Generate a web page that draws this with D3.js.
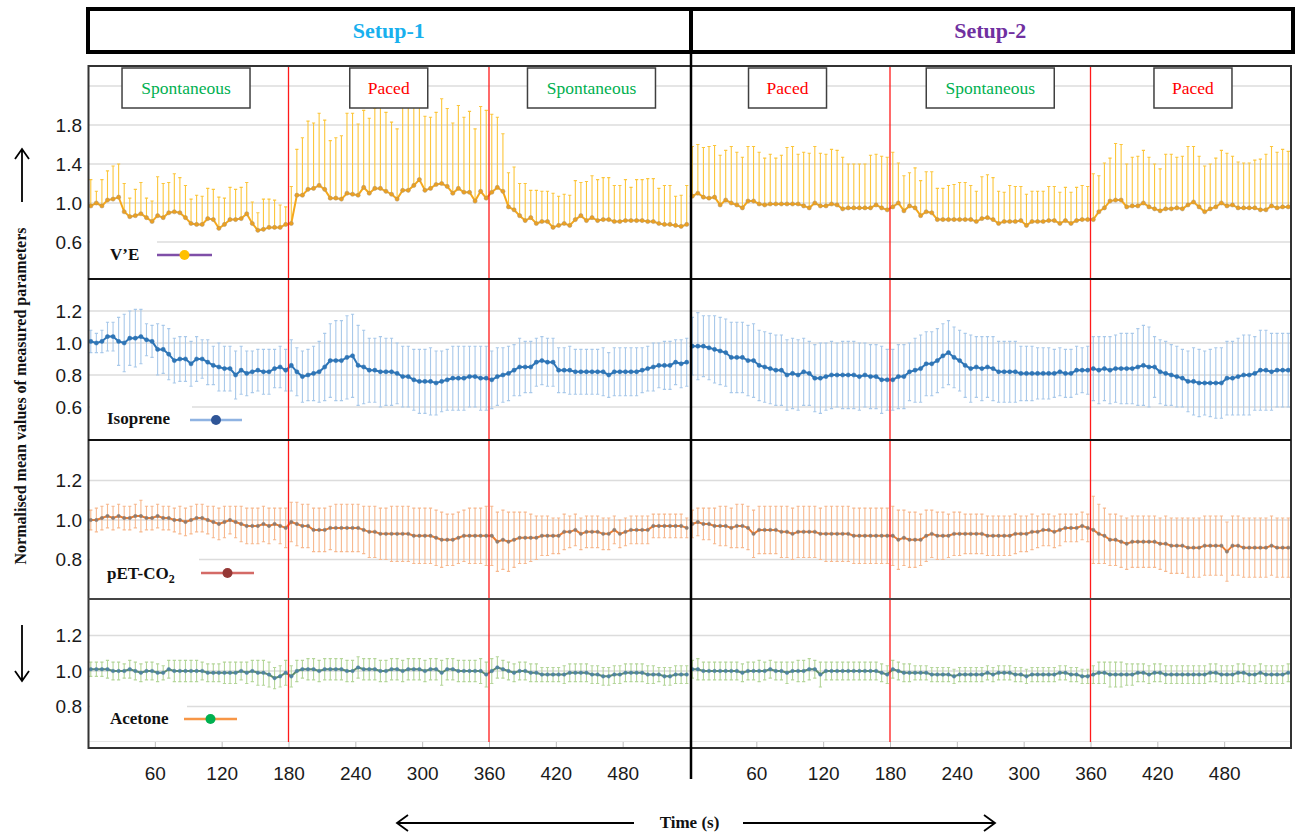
<!DOCTYPE html>
<html lang="en">
<head>
<meta charset="utf-8">
<title>Normalised mean values of measured parameters</title>
<script src="https://cdn.jsdelivr.net/npm/d3@7"></script>
<style>
  body { margin: 0; background: #fff; }
  svg { display: block; }
</style>
</head>
<body>
<script>

// Sampling: one mean every 5 s, 108 samples per setup (540 s)
var setupLength = 540;
var sampleStep = 5;
var firstSample = 2.5;

var setupNames = ["Setup-1", "Setup-2"];
var phaseNames1 = ["Spontaneous", "Paced", "Spontaneous"];
var phaseNames2 = ["Paced", "Spontaneous", "Paced"];
var phaseCentres = [88, 270, 452];
var phaseBorders = [180, 360];
var timeTicks = [60, 120, 180, 240, 300, 360, 420, 480];

// V'E (upper error only)
var veMean1 = [0.97,1.00,0.97,1.03,1.04,1.06,0.91,0.86,0.87,0.89,
  0.85,0.81,0.87,0.85,0.90,0.91,0.90,0.85,0.79,0.78,
  0.78,0.84,0.83,0.74,0.78,0.83,0.83,0.84,0.89,0.79,
  0.72,0.73,0.75,0.75,0.75,0.78,0.79,1.08,1.08,1.14,
  1.15,1.18,1.14,1.05,1.05,1.04,1.10,1.09,1.08,1.16,
  1.10,1.15,1.15,1.12,1.09,1.04,1.13,1.13,1.18,1.24,
  1.13,1.15,1.19,1.20,1.17,1.10,1.15,1.11,1.11,1.02,
  1.12,1.05,1.11,1.16,1.12,0.96,0.93,0.87,0.82,0.85,
  0.79,0.81,0.81,0.75,0.77,0.79,0.77,0.83,0.87,0.82,
  0.85,0.82,0.83,0.83,0.81,0.81,0.82,0.82,0.82,0.82,
  0.81,0.81,0.79,0.78,0.78,0.77,0.76,0.78];
var veErr1 = [0.27,0.12,0.27,0.30,0.34,0.34,0.29,0.19,0.27,0.32,
  0.20,0.21,0.40,0.35,0.31,0.39,0.36,0.33,0.25,0.30,
  0.29,0.31,0.31,0.32,0.27,0.33,0.31,0.32,0.32,0.22,
  0.18,0.31,0.29,0.28,0.23,0.18,0.38,0.47,0.59,0.70,
  0.67,0.74,0.71,0.59,0.62,0.65,0.82,0.83,0.73,0.79,
  0.77,0.82,0.90,0.81,0.74,0.72,0.87,0.97,0.91,0.82,
  0.76,0.73,0.74,0.87,0.80,0.72,0.85,0.77,0.83,0.74,
  0.87,0.90,0.80,0.72,0.59,0.35,0.44,0.33,0.38,0.28,
  0.34,0.31,0.31,0.35,0.30,0.30,0.31,0.40,0.34,0.40,
  0.43,0.42,0.43,0.43,0.37,0.37,0.42,0.34,0.42,0.42,
  0.44,0.44,0.36,0.40,0.40,0.30,0.32,0.40];
var veMean2 = [1.07,1.10,1.06,1.05,1.06,0.98,1.03,1.00,0.98,0.95,
  1.02,1.02,0.99,0.98,0.99,0.99,0.99,0.99,0.99,0.99,
  0.97,0.95,1.00,0.97,0.97,0.99,0.98,0.94,0.95,0.95,
  0.95,0.95,0.95,0.98,0.95,0.93,0.96,1.00,0.92,0.97,
  0.95,0.87,0.91,0.90,0.83,0.83,0.83,0.83,0.83,0.83,
  0.83,0.81,0.84,0.85,0.83,0.79,0.81,0.81,0.81,0.82,
  0.77,0.81,0.81,0.81,0.82,0.82,0.79,0.82,0.79,0.82,
  0.83,0.83,0.83,0.91,0.95,1.02,1.03,1.03,0.96,0.97,
  0.97,1.00,0.96,0.94,0.92,0.94,0.94,0.95,0.94,0.98,
  1.01,0.96,0.91,0.94,0.96,1.00,0.97,0.98,0.95,0.95,
  0.95,0.95,0.93,0.93,0.97,0.95,0.96,0.96];
var veErr2 = [0.51,0.50,0.51,0.53,0.53,0.51,0.51,0.58,0.54,0.52,
  0.56,0.56,0.53,0.48,0.51,0.47,0.50,0.58,0.59,0.51,
  0.55,0.56,0.58,0.54,0.53,0.56,0.56,0.53,0.45,0.45,
  0.45,0.45,0.54,0.52,0.53,0.54,0.56,0.41,0.36,0.34,
  0.41,0.36,0.41,0.42,0.32,0.32,0.35,0.36,0.38,0.38,
  0.35,0.31,0.43,0.44,0.43,0.33,0.30,0.37,0.36,0.35,
  0.32,0.31,0.31,0.31,0.35,0.35,0.32,0.34,0.32,0.34,
  0.35,0.34,0.47,0.37,0.46,0.44,0.58,0.57,0.44,0.50,
  0.51,0.54,0.51,0.46,0.43,0.56,0.56,0.52,0.54,0.60,
  0.57,0.52,0.47,0.46,0.50,0.54,0.54,0.50,0.47,0.46,
  0.46,0.49,0.52,0.57,0.61,0.57,0.59,0.57];

// Isoprene
var isoMean1 = [1.01,1.00,1.01,1.04,1.04,1.01,1.00,1.03,1.03,1.04,
  1.02,1.01,0.96,0.96,0.93,0.89,0.90,0.90,0.87,0.90,
  0.90,0.88,0.86,0.85,0.84,0.84,0.80,0.83,0.81,0.82,
  0.83,0.82,0.82,0.84,0.85,0.83,0.86,0.82,0.79,0.80,
  0.81,0.82,0.85,0.89,0.89,0.89,0.91,0.92,0.86,0.85,
  0.83,0.83,0.82,0.82,0.82,0.81,0.79,0.79,0.77,0.76,
  0.76,0.76,0.75,0.76,0.77,0.78,0.78,0.78,0.79,0.79,
  0.78,0.78,0.77,0.79,0.80,0.81,0.83,0.85,0.85,0.85,
  0.88,0.89,0.88,0.88,0.83,0.83,0.83,0.82,0.82,0.82,
  0.82,0.82,0.82,0.80,0.82,0.82,0.82,0.82,0.82,0.83,
  0.84,0.85,0.86,0.86,0.86,0.88,0.87,0.88];
var isoErr1 = [0.07,0.06,0.07,0.09,0.09,0.15,0.18,0.17,0.18,0.17,
  0.10,0.10,0.16,0.15,0.16,0.14,0.14,0.14,0.14,0.14,
  0.12,0.14,0.12,0.15,0.14,0.14,0.15,0.15,0.14,0.13,
  0.13,0.14,0.14,0.12,0.13,0.13,0.16,0.15,0.16,0.16,
  0.17,0.19,0.21,0.23,0.25,0.25,0.26,0.26,0.25,0.23,
  0.20,0.20,0.22,0.21,0.21,0.19,0.19,0.19,0.19,0.20,
  0.20,0.21,0.20,0.19,0.19,0.20,0.20,0.20,0.19,0.19,
  0.20,0.20,0.18,0.18,0.17,0.17,0.16,0.18,0.16,0.16,
  0.15,0.15,0.15,0.15,0.14,0.14,0.15,0.14,0.14,0.14,
  0.14,0.14,0.15,0.14,0.15,0.15,0.15,0.15,0.15,0.14,
  0.14,0.15,0.14,0.15,0.15,0.14,0.15,0.15];
var isoMean2 = [0.98,0.98,0.98,0.97,0.96,0.95,0.94,0.91,0.91,0.91,
  0.89,0.89,0.86,0.85,0.84,0.83,0.83,0.80,0.81,0.80,
  0.82,0.81,0.78,0.78,0.79,0.80,0.80,0.80,0.80,0.80,
  0.79,0.80,0.79,0.79,0.77,0.77,0.77,0.79,0.79,0.82,
  0.83,0.84,0.87,0.87,0.89,0.92,0.94,0.91,0.89,0.86,
  0.84,0.85,0.84,0.85,0.84,0.82,0.82,0.82,0.82,0.81,
  0.81,0.81,0.81,0.81,0.81,0.81,0.82,0.81,0.81,0.83,
  0.83,0.83,0.84,0.83,0.84,0.83,0.84,0.84,0.84,0.84,
  0.85,0.86,0.85,0.85,0.82,0.81,0.80,0.79,0.78,0.76,
  0.76,0.75,0.75,0.75,0.75,0.75,0.78,0.78,0.79,0.80,
  0.80,0.81,0.83,0.83,0.82,0.83,0.83,0.83];
var isoErr2 = [0.18,0.21,0.19,0.20,0.21,0.21,0.21,0.22,0.22,0.22,
  0.22,0.23,0.22,0.22,0.22,0.22,0.22,0.22,0.22,0.22,
  0.21,0.20,0.21,0.22,0.21,0.21,0.20,0.21,0.21,0.21,
  0.21,0.20,0.20,0.20,0.21,0.19,0.19,0.20,0.20,0.18,
  0.20,0.21,0.20,0.20,0.20,0.20,0.20,0.19,0.19,0.20,
  0.21,0.19,0.20,0.19,0.20,0.19,0.19,0.19,0.19,0.17,
  0.17,0.17,0.16,0.16,0.16,0.15,0.15,0.15,0.15,0.15,
  0.14,0.15,0.20,0.21,0.20,0.21,0.21,0.22,0.22,0.22,
  0.24,0.25,0.25,0.19,0.20,0.20,0.19,0.19,0.18,0.19,
  0.21,0.21,0.20,0.21,0.22,0.22,0.23,0.23,0.24,0.25,
  0.25,0.23,0.25,0.25,0.24,0.23,0.23,0.23];

// pET-CO2
var petMean1 = [1.00,1.00,1.01,1.02,1.01,1.02,1.01,1.01,1.02,1.02,
  1.01,1.01,1.02,1.01,1.01,1.00,1.00,0.99,1.00,1.01,
  1.01,1.00,0.99,0.98,0.99,1.00,0.99,0.98,0.97,0.97,
  0.97,0.98,0.97,0.98,0.97,0.96,0.99,0.98,0.97,0.97,
  0.95,0.95,0.95,0.96,0.96,0.96,0.96,0.96,0.96,0.95,
  0.94,0.94,0.93,0.93,0.93,0.93,0.93,0.93,0.92,0.92,
  0.92,0.92,0.91,0.90,0.90,0.90,0.91,0.92,0.92,0.92,
  0.92,0.92,0.92,0.89,0.90,0.89,0.90,0.91,0.91,0.91,
  0.91,0.92,0.92,0.92,0.92,0.94,0.94,0.95,0.93,0.94,
  0.94,0.94,0.93,0.93,0.95,0.93,0.94,0.95,0.95,0.95,
  0.95,0.97,0.97,0.97,0.97,0.97,0.97,0.96];
var petErr1 = [0.05,0.06,0.06,0.06,0.06,0.06,0.06,0.06,0.06,0.08,
  0.06,0.06,0.06,0.06,0.06,0.06,0.07,0.07,0.07,0.07,
  0.07,0.07,0.08,0.08,0.08,0.07,0.08,0.09,0.09,0.09,
  0.09,0.09,0.09,0.08,0.09,0.10,0.10,0.11,0.11,0.11,
  0.11,0.11,0.11,0.11,0.12,0.12,0.12,0.12,0.12,0.12,
  0.13,0.13,0.13,0.13,0.14,0.14,0.14,0.14,0.14,0.14,
  0.14,0.14,0.14,0.14,0.13,0.13,0.13,0.13,0.14,0.14,
  0.14,0.15,0.15,0.15,0.15,0.15,0.14,0.13,0.13,0.12,
  0.11,0.10,0.10,0.09,0.09,0.09,0.08,0.08,0.08,0.08,
  0.08,0.08,0.08,0.08,0.07,0.07,0.07,0.07,0.07,0.07,
  0.07,0.06,0.06,0.06,0.06,0.06,0.06,0.05];
var petMean2 = [0.98,0.99,0.98,0.98,0.97,0.97,0.97,0.96,0.97,0.97,
  0.96,0.93,0.95,0.95,0.95,0.95,0.94,0.94,0.93,0.94,
  0.94,0.94,0.94,0.93,0.93,0.93,0.93,0.93,0.93,0.92,
  0.92,0.92,0.92,0.92,0.92,0.92,0.92,0.90,0.91,0.90,
  0.90,0.90,0.92,0.93,0.92,0.92,0.92,0.93,0.93,0.93,
  0.93,0.93,0.93,0.92,0.92,0.92,0.92,0.92,0.93,0.93,
  0.93,0.94,0.94,0.95,0.95,0.94,0.95,0.96,0.96,0.96,
  0.97,0.96,0.95,0.93,0.92,0.90,0.90,0.89,0.88,0.89,
  0.89,0.89,0.89,0.89,0.88,0.88,0.87,0.87,0.87,0.86,
  0.86,0.86,0.87,0.87,0.87,0.87,0.84,0.87,0.87,0.86,
  0.86,0.86,0.86,0.86,0.87,0.86,0.86,0.86];
var petErr2 = [0.07,0.07,0.08,0.08,0.09,0.10,0.10,0.10,0.11,0.11,
  0.11,0.12,0.12,0.12,0.12,0.12,0.13,0.13,0.13,0.13,
  0.13,0.13,0.13,0.13,0.14,0.14,0.14,0.14,0.14,0.14,
  0.14,0.14,0.14,0.14,0.14,0.14,0.15,0.15,0.14,0.14,
  0.14,0.13,0.13,0.12,0.12,0.12,0.11,0.11,0.11,0.10,
  0.10,0.10,0.10,0.10,0.10,0.10,0.10,0.10,0.10,0.09,
  0.09,0.09,0.08,0.08,0.08,0.08,0.08,0.07,0.07,0.07,
  0.07,0.07,0.17,0.15,0.14,0.13,0.13,0.13,0.13,0.13,
  0.13,0.13,0.13,0.13,0.13,0.14,0.14,0.14,0.14,0.15,
  0.15,0.15,0.15,0.15,0.15,0.15,0.15,0.15,0.15,0.15,
  0.15,0.15,0.15,0.15,0.15,0.15,0.15,0.15];

// Acetone
var aceMean1 = [1.01,1.01,1.01,1.01,1.00,1.00,1.00,1.01,1.00,0.99,
  1.00,1.00,0.99,0.99,1.01,1.00,1.00,1.00,1.00,1.00,
  1.00,0.99,0.99,0.99,0.99,0.99,0.99,1.00,0.99,1.00,
  0.99,0.99,0.98,0.96,0.97,0.99,0.97,1.00,1.01,1.01,
  1.01,1.00,1.01,1.01,1.01,1.01,1.00,1.00,1.02,1.01,
  1.01,1.01,1.00,1.00,1.01,1.01,1.00,1.01,1.01,1.01,
  1.00,1.01,1.01,0.99,1.01,1.01,1.00,1.00,1.00,1.00,
  1.00,0.98,1.00,1.02,1.01,1.00,0.99,1.00,1.00,0.99,
  0.99,0.98,0.98,0.98,0.98,0.98,0.99,0.99,0.99,0.99,
  0.98,0.98,0.97,0.97,0.98,0.98,0.99,0.99,0.99,0.99,
  0.98,0.98,0.98,0.97,0.97,0.98,0.98,0.98];
var aceErr1 = [0.04,0.04,0.04,0.05,0.05,0.05,0.04,0.05,0.05,0.05,
  0.05,0.05,0.05,0.04,0.05,0.06,0.06,0.06,0.06,0.06,
  0.05,0.05,0.05,0.05,0.06,0.06,0.06,0.05,0.06,0.06,
  0.07,0.07,0.07,0.06,0.06,0.07,0.06,0.06,0.05,0.06,
  0.06,0.06,0.06,0.06,0.06,0.06,0.06,0.06,0.06,0.06,
  0.06,0.06,0.06,0.06,0.06,0.06,0.06,0.06,0.06,0.06,
  0.06,0.06,0.06,0.07,0.06,0.06,0.06,0.06,0.06,0.06,
  0.07,0.07,0.07,0.06,0.05,0.05,0.05,0.05,0.05,0.05,
  0.05,0.04,0.04,0.04,0.04,0.05,0.05,0.05,0.05,0.05,
  0.05,0.05,0.05,0.05,0.05,0.05,0.05,0.05,0.05,0.05,
  0.05,0.05,0.04,0.05,0.05,0.05,0.05,0.05];
var aceMean2 = [1.01,1.01,1.00,1.00,1.00,1.00,1.00,1.00,1.00,0.99,
  1.00,1.00,1.00,1.00,1.01,1.00,1.00,0.99,1.00,1.00,
  1.00,1.01,1.01,0.98,1.00,1.00,1.00,1.00,1.00,1.00,
  1.00,1.00,1.00,1.00,0.99,0.98,1.01,1.00,0.99,0.99,
  0.99,0.99,0.99,0.98,0.98,0.98,0.98,0.97,0.98,0.98,
  0.98,0.98,0.98,0.99,0.98,0.99,0.99,0.99,0.98,0.98,
  0.97,0.98,0.98,0.98,0.98,0.98,0.99,0.99,0.98,0.98,
  0.97,0.97,0.98,0.99,0.99,0.98,0.98,0.98,0.98,0.98,
  0.99,0.99,0.98,0.99,0.99,0.98,0.98,0.98,0.98,0.98,
  0.98,0.98,0.98,0.99,0.99,0.98,0.98,0.98,0.99,0.99,
  0.98,0.98,0.99,0.98,0.98,0.98,0.98,0.99];
var aceErr2 = [0.05,0.06,0.05,0.05,0.05,0.05,0.05,0.05,0.05,0.05,
  0.05,0.05,0.06,0.05,0.05,0.05,0.05,0.06,0.05,0.06,
  0.06,0.06,0.05,0.07,0.05,0.05,0.05,0.05,0.05,0.05,
  0.05,0.05,0.05,0.05,0.05,0.05,0.05,0.05,0.05,0.05,
  0.04,0.04,0.04,0.04,0.04,0.04,0.04,0.04,0.04,0.04,
  0.04,0.04,0.04,0.04,0.04,0.04,0.04,0.04,0.04,0.04,
  0.04,0.04,0.04,0.04,0.04,0.04,0.04,0.04,0.04,0.04,
  0.04,0.04,0.05,0.06,0.06,0.07,0.07,0.07,0.06,0.06,
  0.05,0.05,0.05,0.05,0.05,0.05,0.05,0.05,0.05,0.05,
  0.05,0.05,0.05,0.05,0.05,0.05,0.05,0.05,0.05,0.05,
  0.05,0.05,0.05,0.05,0.05,0.05,0.05,0.05];

// Width and height
var w = 1298;
var h = 835;
var serif = "'Liberation Serif', 'Times New Roman', serif";
var sans = "'Liberation Sans', Arial, sans-serif";

var svg = d3.select("body")
            .append("svg")
            .attr("width", w)
            .attr("height", h);

// one time axis for both setups, setup-2 continues after 540 s
var xScale = d3.scaleLinear()
               .domain([0, 2 * setupLength])
               .range([88, 1291]);

var panels = [
  { id: "ve", top: 66, bottom: 279, domain: [0.2, 2.4], range: [281, 66.5],
    grid: [0.6, 1.0, 1.4, 1.8, 2.2], ticks: [0.6, 1.0, 1.4, 1.8],
    mean: [veMean1, veMean2], err: [veErr1, veErr2], upperOnly: true,
    line: "#f5a81c", dot: "#eda020", dotStroke: "#a8906a", r: 2.1, bar: "#fcc63c",
    label: "V\u2019E", lx: 110, ly: 260, legendBox: [90, 226, 67, 46],
    sample: [157, 212, 255], sampleLine: "#7f4fa8", sampleDot: "#ffc000" },
  { id: "iso", top: 279, bottom: 440, domain: [0.4, 1.4], range: [439, 279],
    grid: [0.6, 0.8, 1.0, 1.2], ticks: [0.6, 0.8, 1.0, 1.2],
    mean: [isoMean1, isoMean2], err: [isoErr1, isoErr2], upperOnly: false,
    line: "#2e75b6", dot: "#2e75b6", dotStroke: "#2e75b6", r: 2.1, bar: "#a9c9ea",
    label: "Isoprene", lx: 107, ly: 424, legendBox: [90, 396, 102, 42],
    sample: [190, 242, 420], sampleLine: "#8fb3e2", sampleDot: "#2f5597" },
  { id: "pet", top: 440, bottom: 599, domain: [0.6, 1.4], range: [599, 441],
    grid: [0.8, 1.0, 1.2], ticks: [0.8, 1.0, 1.2],
    mean: [petMean1, petMean2], err: [petErr1, petErr2], upperOnly: false,
    line: "#ed7d31", dot: "#8f7c70", dotStroke: "#8f7c70", r: 1.7, bar: "#f7b98f",
    label: "pET-CO", sub: "2", lx: 107, ly: 579, legendBox: [90, 548, 109, 49],
    sample: [201, 254, 573], sampleLine: "#d46a66", sampleDot: "#953735" },
  { id: "ace", top: 599, bottom: 742, domain: [0.6, 1.4], range: [742, 600],
    grid: [0.6, 0.8, 1.0, 1.2], ticks: [0.8, 1.0, 1.2],
    mean: [aceMean1, aceMean2], err: [aceErr1, aceErr2], upperOnly: false,
    line: "#5e8d6c", dot: "#4f83a0", dotStroke: "#4f83a0", r: 1.8, bar: "#b5d69a",
    label: "Acetone", lx: 110, ly: 724, legendBox: [90, 694, 97, 46],
    sample: [184, 237, 719], sampleLine: "#f79646", sampleDot: "#00b050" }
];

var defs = svg.append("defs");

panels.forEach(function(p) {
  var yScale = d3.scaleLinear().domain(p.domain).range(p.range);

  defs.append("clipPath")
      .attr("id", "clip-" + p.id)
      .append("rect")
      .attr("x", 88)
      .attr("y", p.top)
      .attr("width", 1203)
      .attr("height", p.bottom - p.top);

  var g = svg.append("g").attr("clip-path", "url(#clip-" + p.id + ")");

  // gridlines
  g.selectAll("line.grid")
   .data(p.grid)
   .enter()
   .append("line")
   .attr("class", "grid")
   .attr("x1", 88)
   .attr("x2", 1291)
   .attr("y1", function(d) { return yScale(d); })
   .attr("y2", function(d) { return yScale(d); })
   .attr("stroke", "#dcdcdc")
   .attr("stroke-width", 1.4);

  [0, 1].forEach(function(s) {
    var pts = p.mean[s].map(function(v, i) {
      return { t: s * setupLength + firstSample + i * sampleStep, v: v, e: p.err[s][i] };
    });

    // error bars
    g.selectAll("path.bar" + s)
     .data(pts)
     .enter()
     .append("path")
     .attr("d", function(d) {
       var x = xScale(d.t);
       var y1 = yScale(d.v + d.e);
       var y0 = p.upperOnly ? yScale(d.v) : yScale(d.v - d.e);
       var c = "M" + (x - 1.6) + "," + y1 + "H" + (x + 1.6);
       if (!p.upperOnly) c += "M" + (x - 1.6) + "," + y0 + "H" + (x + 1.6);
       return "M" + x + "," + y0 + "V" + y1 + c;
     })
     .attr("fill", "none")
     .attr("stroke", p.bar)
     .attr("stroke-width", 1.1);

    var line = d3.line()
                 .x(function(d) { return xScale(d.t); })
                 .y(function(d) { return yScale(d.v); });

    g.append("path")
     .datum(pts)
     .attr("d", line)
     .attr("fill", "none")
     .attr("stroke", p.line)
     .attr("stroke-width", 2);

    g.selectAll("circle.dot" + s)
     .data(pts)
     .enter()
     .append("circle")
     .attr("cx", function(d) { return xScale(d.t); })
     .attr("cy", function(d) { return yScale(d.v); })
     .attr("r", p.r)
     .attr("fill", p.dot)
     .attr("stroke", p.dotStroke)
     .attr("stroke-width", 0.5);
  });

  // y axis labels
  var yAxis = d3.axisLeft(yScale)
                .tickValues(p.ticks)
                .tickSize(0)
                .tickPadding(6)
                .tickFormat(d3.format(".1f"));
  var ya = svg.append("g")
              .attr("transform", "translate(88,0)")
              .call(yAxis);
  ya.select(".domain").remove();
  ya.selectAll("text")
    .attr("font-family", sans)
    .attr("font-size", "19px")
    .attr("fill", "#1a1a1a");
});

// phase borders (red)
var borders = [];
[0, 1].forEach(function(s) {
  phaseBorders.forEach(function(b) { borders.push(s * setupLength + b); });
});
svg.selectAll("line.phase")
   .data(borders)
   .enter()
   .append("line")
   .attr("x1", function(d) { return xScale(d); })
   .attr("x2", function(d) { return xScale(d); })
   .attr("y1", 66)
   .attr("y2", 742)
   .attr("stroke", "#ff1a1a")
   .attr("stroke-width", 1.3);

// legends
panels.forEach(function(p) {
  svg.append("rect")
     .attr("x", p.legendBox[0])
     .attr("y", p.legendBox[1])
     .attr("width", p.legendBox[2])
     .attr("height", p.legendBox[3])
     .attr("fill", "#fff");
  var t = svg.append("text")
     .attr("x", p.lx)
     .attr("y", p.ly)
     .attr("font-family", serif)
     .attr("font-weight", "bold")
     .attr("font-size", "17px")
     .attr("fill", "#111")
     .text(p.label);
  if (p.sub) {
    t.append("tspan")
     .attr("font-size", "12px")
     .attr("dy", 4)
     .text(p.sub);
  }
  svg.append("line")
     .attr("x1", p.sample[0])
     .attr("x2", p.sample[1])
     .attr("y1", p.sample[2])
     .attr("y2", p.sample[2])
     .attr("stroke", p.sampleLine)
     .attr("stroke-width", 2.5);
  svg.append("circle")
     .attr("cx", (p.sample[0] + p.sample[1]) / 2)
     .attr("cy", p.sample[2])
     .attr("r", 5)
     .attr("fill", p.sampleDot);
});

// phase label boxes
var phases = [];
[phaseNames1, phaseNames2].forEach(function(names, s) {
  names.forEach(function(n, i) {
    phases.push({ name: n, t: s * setupLength + phaseCentres[i] });
  });
});
var pg = svg.selectAll("g.phaseBox")
            .data(phases)
            .enter()
            .append("g");
pg.append("rect")
  .attr("x", function(d) { return xScale(d.t) - (d.name === "Paced" ? 39 : 64); })
  .attr("y", 68)
  .attr("width", function(d) { return d.name === "Paced" ? 78 : 128; })
  .attr("height", 40)
  .attr("fill", "#fff")
  .attr("stroke", "#404040")
  .attr("stroke-width", 1.5);
pg.append("text")
  .attr("x", function(d) { return xScale(d.t); })
  .attr("y", 94)
  .attr("text-anchor", "middle")
  .attr("font-family", serif)
  .attr("font-size", "17.5px")
  .attr("fill", function(d) { return d.name === "Paced" ? "#ff0000" : "#00b050"; })
  .text(function(d) { return d.name; });

// panel frames
svg.append("rect")
   .attr("x", 88.5)
   .attr("y", 66)
   .attr("width", 1202.5)
   .attr("height", 682)
   .attr("fill", "none")
   .attr("stroke", "#333")
   .attr("stroke-width", 2);
svg.selectAll("line.sep")
   .data([279, 440, 599])
   .enter()
   .append("line")
   .attr("x1", 88)
   .attr("x2", 1291)
   .attr("y1", function(d) { return d; })
   .attr("y2", function(d) { return d; })
   .attr("stroke", function(d, i) { return i === 2 ? "#444" : "#111"; })
   .attr("stroke-width", 2);

// x axis
var tickVals = [];
[0, 1].forEach(function(s) {
  timeTicks.forEach(function(t) { tickVals.push(s * setupLength + t); });
});
var xAxis = d3.axisBottom(xScale)
              .tickValues(tickVals)
              .tickSize(5)
              .tickPadding(20)
              .tickFormat(function(d) { return d % setupLength; });
var xa = svg.append("g")
            .attr("transform", "translate(0,742)")
            .call(xAxis);
xa.select(".domain").remove();
xa.selectAll("line").attr("stroke", "#bdbdbd");
xa.selectAll("text")
  .attr("font-family", sans)
  .attr("font-size", "19px")
  .attr("fill", "#1a1a1a");

// setup separator
svg.append("line")
   .attr("x1", xScale(setupLength) + 1.5)
   .attr("x2", xScale(setupLength) + 1.5)
   .attr("y1", 52)
   .attr("y2", 779)
   .attr("stroke", "#000")
   .attr("stroke-width", 2.5);

// header boxes
svg.append("rect")
   .attr("x", 88)
   .attr("y", 9)
   .attr("width", 1205)
   .attr("height", 43)
   .attr("fill", "none")
   .attr("stroke", "#000")
   .attr("stroke-width", 4);
svg.append("line")
   .attr("x1", xScale(setupLength) + 1.5)
   .attr("x2", xScale(setupLength) + 1.5)
   .attr("y1", 9)
   .attr("y2", 52)
   .attr("stroke", "#000")
   .attr("stroke-width", 4);
svg.selectAll("text.setup")
   .data(setupNames)
   .enter()
   .append("text")
   .attr("x", function(d, i) { return xScale(i * setupLength + setupLength / 2); })
   .attr("y", 38)
   .attr("text-anchor", "middle")
   .attr("font-family", serif)
   .attr("font-weight", "bold")
   .attr("font-size", "22px")
   .attr("fill", function(d, i) { return i === 0 ? "#18b0ee" : "#7030a0"; })
   .text(function(d) { return d; });

// axis titles and arrows
svg.append("text")
   .attr("transform", "translate(26,396) rotate(-90)")
   .attr("text-anchor", "middle")
   .attr("font-family", serif)
   .attr("font-weight", "bold")
   .attr("font-size", "16px")
   .attr("fill", "#111")
   .text("Normalised mean values of measured parameters");

svg.append("text")
   .attr("x", xScale(setupLength))
   .attr("y", 828)
   .attr("text-anchor", "middle")
   .attr("font-family", serif)
   .attr("font-weight", "bold")
   .attr("font-size", "17px")
   .attr("fill", "#111")
   .text("Time (s)");

var arrows = [
  "M22,202V150M15,159L22,149L29,159",
  "M22,625V680M15,671L22,681L29,671",
  "M634,823H398M408,815L397,823L408,831",
  "M743,823H994M984,815L995,823L984,831"
];
svg.selectAll("path.arrow")
   .data(arrows)
   .enter()
   .append("path")
   .attr("d", function(d) { return d; })
   .attr("fill", "none")
   .attr("stroke", "#000")
   .attr("stroke-width", 1.8);

</script>
</body>
</html>
